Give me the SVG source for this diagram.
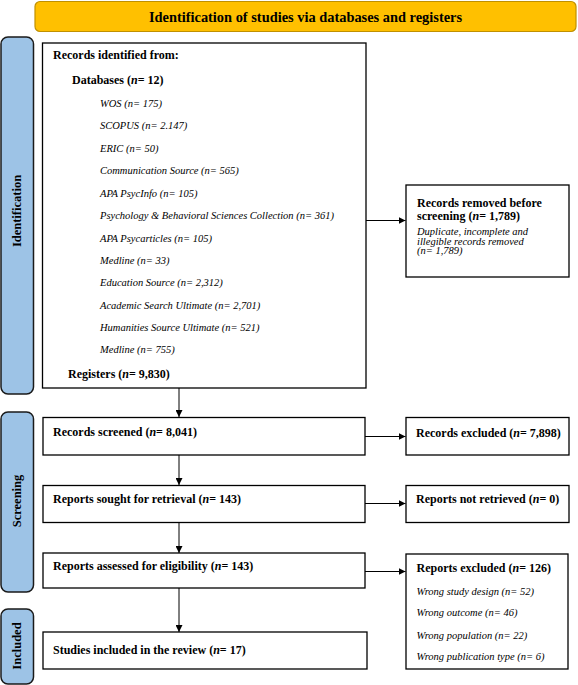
<svg xmlns="http://www.w3.org/2000/svg" width="578" height="685" viewBox="0 0 578 685">
<style>
.box{fill:#fff;stroke:#000;stroke-width:1.3}
.side{fill:#9DC3E6;stroke:#1a1a1a;stroke-width:1.5}
.ban{fill:#FFC000;stroke:#C09000;stroke-width:1.2}
text{font-family:"Liberation Serif","Times New Roman",serif;fill:#000}
.b{font-weight:bold;font-size:12px}
.i{font-style:italic;font-size:10.5px}
.t{font-weight:bold;font-size:14.4px}
.c{stroke:#000;stroke-width:1;fill:none}
</style>
<defs>
<marker id="ah" viewBox="0 0 10 10" refX="10" refY="5" markerWidth="7" markerHeight="7" markerUnits="userSpaceOnUse" orient="auto">
<path d="M0,0 L10,5 L0,10 z" fill="#000"/>
</marker>
</defs>
<g id="banner">
<rect class="ban" x="35" y="1.5" width="541" height="30" rx="5"/>
<text class="t" x="305.5" y="21.5" text-anchor="middle">Identification of studies via databases and registers</text>
</g>
<g id="side-identification">
<rect class="side" x="1" y="37" width="32.5" height="357" rx="7"/>
<text class="b" transform="translate(21,211) rotate(-90)" text-anchor="middle" style="font-size:12.5px">Identification</text>
</g>
<g id="side-screening">
<rect class="side" x="1" y="412" width="32.5" height="180" rx="7"/>
<text class="b" transform="translate(21,501) rotate(-90)" text-anchor="middle" style="font-size:12.5px">Screening</text>
</g>
<g id="side-included">
<rect class="side" x="1" y="609" width="32.5" height="75" rx="7"/>
<text class="b" transform="translate(21,646) rotate(-90)" text-anchor="middle" style="font-size:12.5px">Included</text>
</g>
<g id="records-identified">
<rect class="box" x="42.5" y="43" width="323.5" height="345"/>
<text class="b" x="53" y="59">Records identified from:</text>
<text class="b" x="72" y="84">Databases (<tspan font-style="italic">n</tspan>= 12)</text>
<text class="i" x="100" y="106.5">WOS (n= 175)</text>
<text class="i" x="100" y="129">SCOPUS (n= 2.147)</text>
<text class="i" x="100" y="151.5">ERIC (n= 50)</text>
<text class="i" x="100" y="173.5">Communication Source (n= 565)</text>
<text class="i" x="100" y="196.5">APA PsycInfo (n= 105)</text>
<text class="i" x="100" y="218.5">Psychology &amp; Behavioral Sciences Collection (n= 361)</text>
<text class="i" x="100" y="241.5">APA Psycarticles (n= 105)</text>
<text class="i" x="100" y="263.5">Medline (n= 33)</text>
<text class="i" x="100" y="286">Education Source (n= 2,312)</text>
<text class="i" x="100" y="308.5">Academic Search Ultimate (n= 2,701)</text>
<text class="i" x="100" y="330.5">Humanities Source Ultimate (n= 521)</text>
<text class="i" x="100" y="352.5">Medline (n= 755)</text>
<text class="b" x="68" y="378">Registers (<tspan font-style="italic">n</tspan>= 9,830)</text>
</g>
<g id="records-removed">
<rect class="box" x="406" y="185" width="163" height="92"/>
<text class="b" x="417" y="207">Records removed before</text>
<text class="b" x="417" y="220">screening (<tspan font-style="italic">n</tspan>= 1,789)</text>
<text class="i" x="417" y="234.5">Duplicate, incomplete and</text>
<text class="i" x="417" y="244.5">illegible records removed</text>
<text class="i" x="417" y="254">(n= 1,789)</text>
</g>
<g id="records-screened">
<rect class="box" x="43" y="417.5" width="322" height="37.5"/>
<text class="b" x="53" y="436">Records screened (<tspan font-style="italic">n</tspan>= 8,041)</text>
</g>
<g id="records-excluded">
<rect class="box" x="406" y="417.5" width="163" height="37.5"/>
<text class="b" x="416" y="437">Records excluded (<tspan font-style="italic">n</tspan>= 7,898)</text>
</g>
<g id="reports-sought">
<rect class="box" x="43" y="485.5" width="322" height="37"/>
<text class="b" x="53" y="503">Reports sought for retrieval (<tspan font-style="italic">n</tspan>= 143)</text>
</g>
<g id="reports-not-retrieved">
<rect class="box" x="406" y="485.5" width="163" height="37"/>
<text class="b" x="416" y="503">Reports not retrieved (<tspan font-style="italic">n</tspan>= 0)</text>
</g>
<g id="reports-assessed">
<rect class="box" x="43" y="553" width="322" height="35"/>
<text class="b" x="53" y="570">Reports assessed for eligibility (<tspan font-style="italic">n</tspan>= 143)</text>
</g>
<g id="reports-excluded">
<rect class="box" x="406" y="554" width="162" height="115"/>
<text class="b" x="416.5" y="571.5">Reports excluded (<tspan font-style="italic">n</tspan>= 126)</text>
<text class="i" x="416.5" y="595">Wrong study design (n= 52)</text>
<text class="i" x="416.5" y="616">Wrong outcome (n= 46)</text>
<text class="i" x="416.5" y="638.5">Wrong population (n= 22)</text>
<text class="i" x="416.5" y="660">Wrong publication type (n= 6)</text>
</g>
<g id="studies-included">
<rect class="box" x="43" y="632" width="324" height="37"/>
<text class="b" x="53" y="654">Studies included in the review (<tspan font-style="italic">n</tspan>= 17)</text>
</g>
<g id="connectors">
<line class="c" x1="179" y1="388" x2="179" y2="417" marker-end="url(#ah)"/>
<line class="c" x1="179" y1="455" x2="179" y2="485" marker-end="url(#ah)"/>
<line class="c" x1="179" y1="522.5" x2="179" y2="553" marker-end="url(#ah)"/>
<line class="c" x1="179" y1="588" x2="179" y2="632" marker-end="url(#ah)"/>
<line class="c" x1="366" y1="220.5" x2="405.5" y2="220.5" marker-end="url(#ah)"/>
<line class="c" x1="365" y1="436.5" x2="405.5" y2="436.5" marker-end="url(#ah)"/>
<line class="c" x1="365" y1="503.5" x2="405.5" y2="503.5" marker-end="url(#ah)"/>
<line class="c" x1="365" y1="571.5" x2="405.5" y2="571.5" marker-end="url(#ah)"/>
</g>
</svg>
